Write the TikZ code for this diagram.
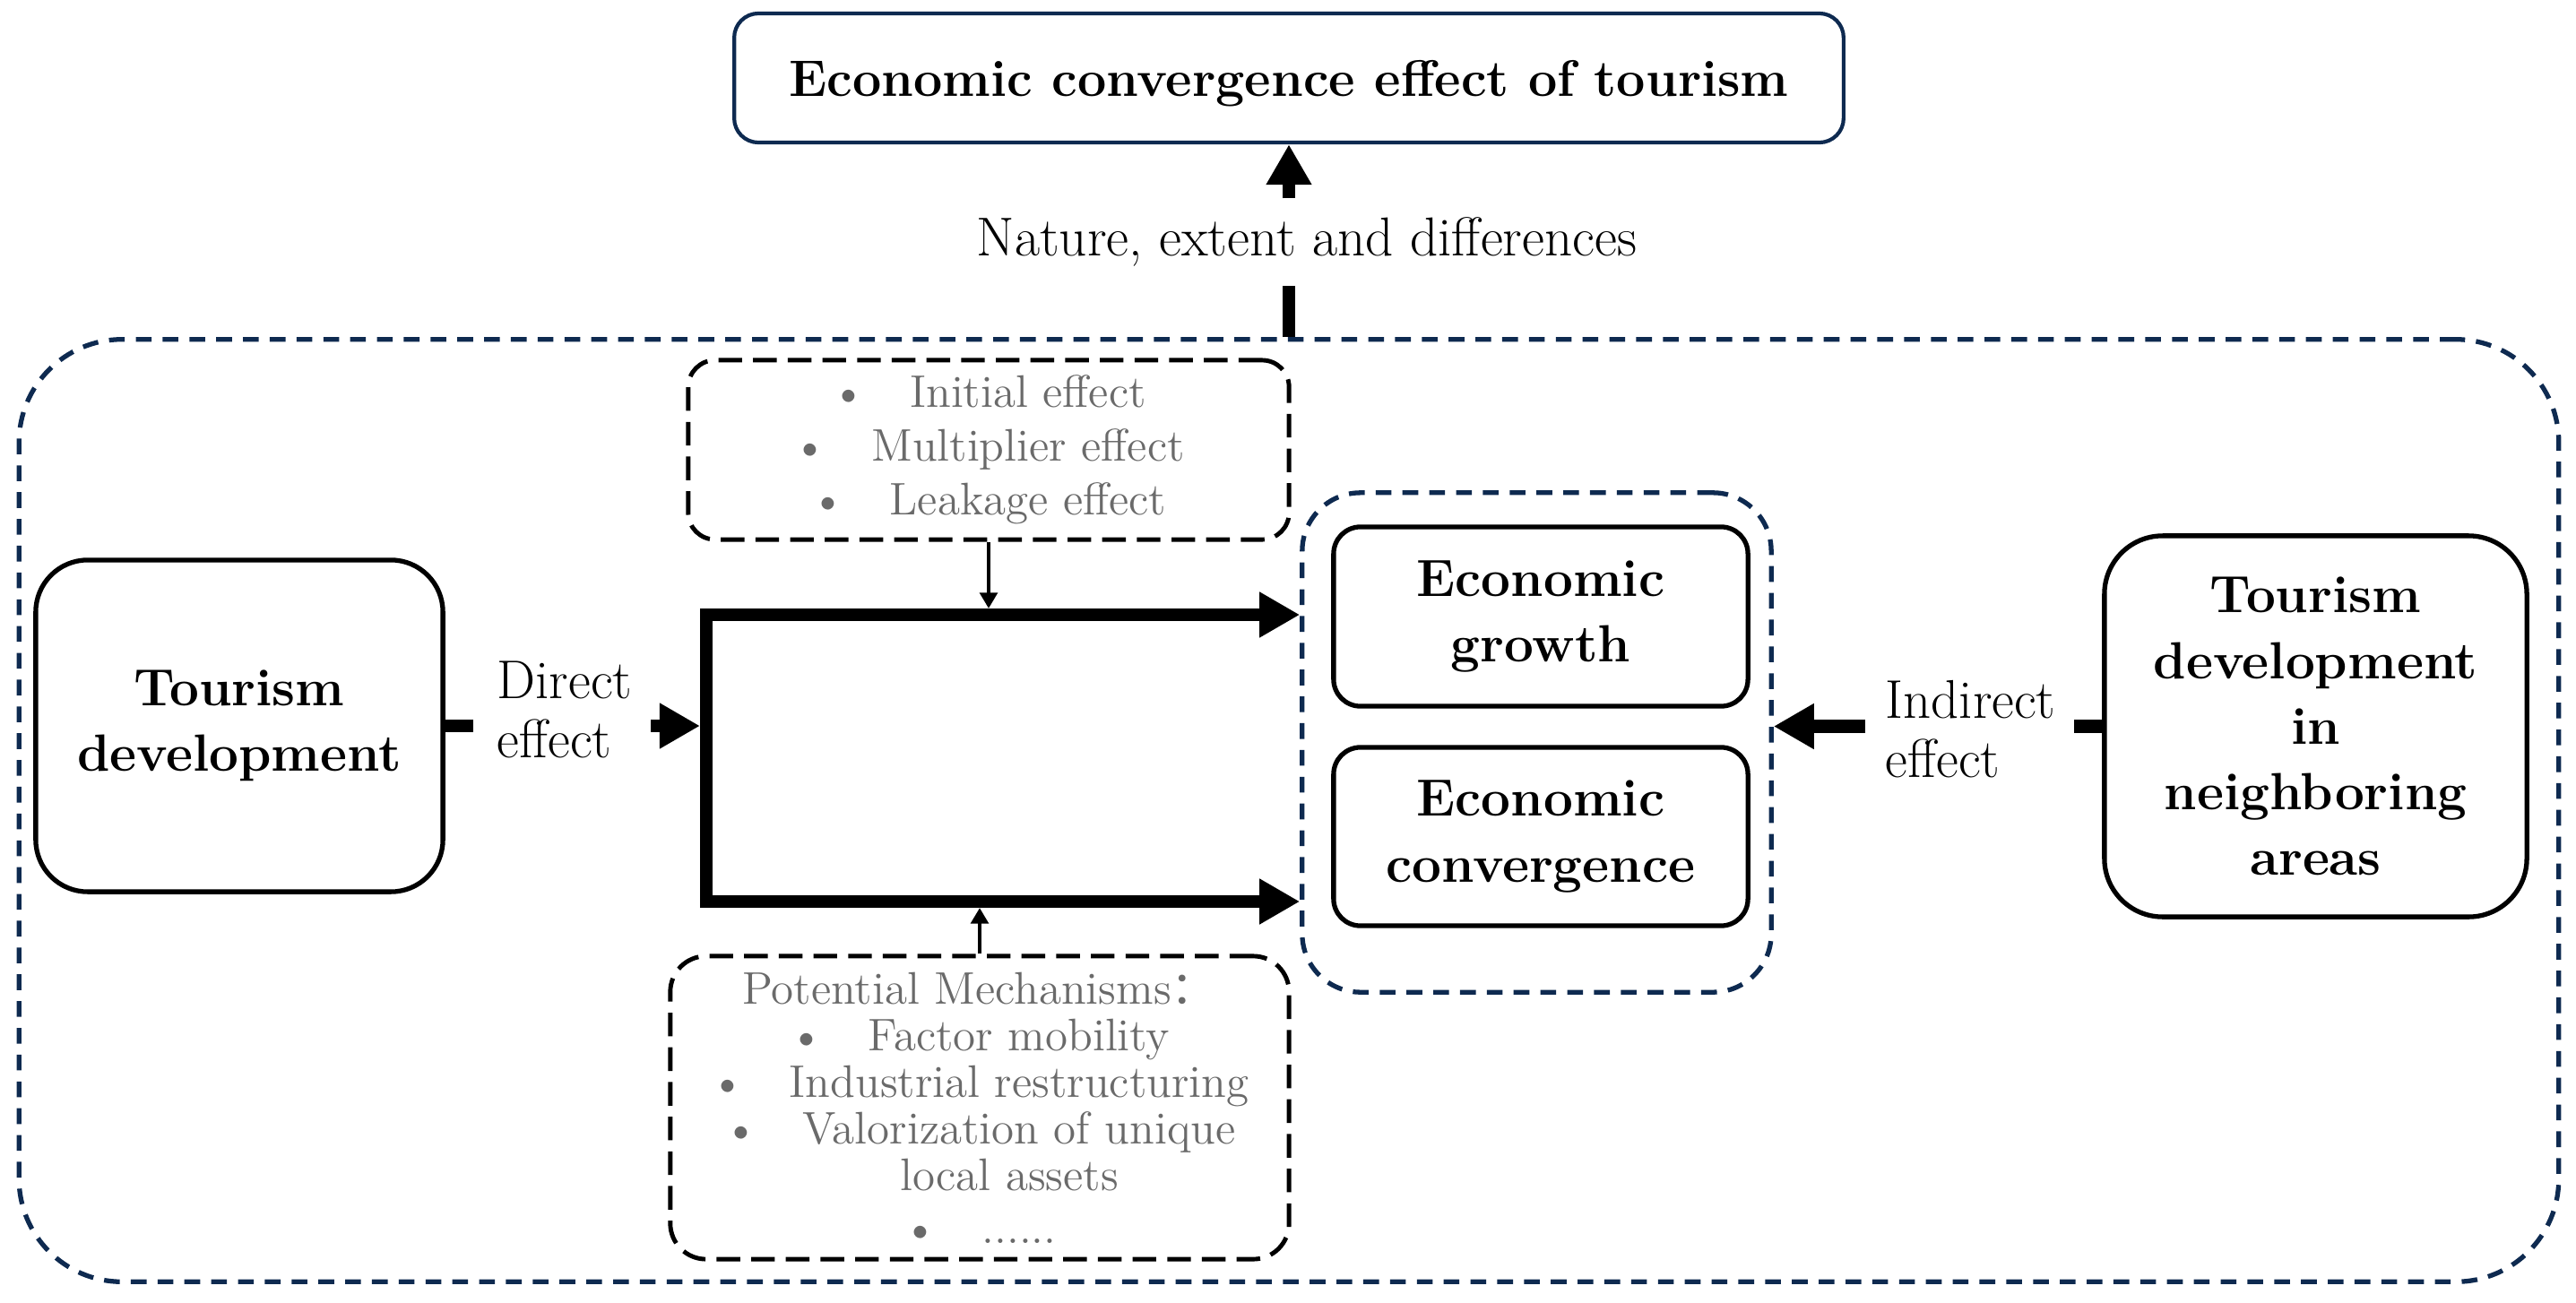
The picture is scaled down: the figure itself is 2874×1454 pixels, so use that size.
\documentclass[tikz,border=0pt]{standalone}
\usepackage{fontspec}
\newfontfamily\cjk{Noto Sans CJK SC}
\usetikzlibrary{arrows.meta}
\definecolor{navy}{HTML}{0E2A50}
\definecolor{txtgray}{HTML}{6A6A6A}
\newcommand{\myitem}{\textbullet\hspace{14pt}}
\begin{document}
\begin{tikzpicture}[x=0.01cm,y=-0.01cm,
  box/.style={draw=black, line width=1.5pt, align=center, inner sep=0pt,
    font=\fontsize{16.6}{20.8}\selectfont\bfseries},
  navydash/.style={draw=navy, line width=1.5pt, dash pattern=on 5pt off 3.5pt},
  blackdash/.style={draw=black, line width=1.4pt, dash pattern=on 7.5pt off 3.5pt,
    align=center, inner sep=0pt, text=txtgray},
  lbl/.style={align=left, inner sep=0pt, font=\fontsize{17.3}{18.8}\selectfont},
  thickln/.style={line width=4pt, draw=black},
  bigtip/.style={-{Triangle[length=12.8pt,width=13.6pt]}},
  thinarrow/.style={line width=1.3pt, -{Triangle[length=5pt,width=5.5pt]}, shorten >=2pt}
]
\useasboundingbox (0,0) rectangle (2874,1454);

% containers
\node[navydash, rounded corners=1.15cm, minimum width=28.32cm, minimum height=10.51cm] (outer) at (1438,904.5) {};
\node[navydash, rounded corners=0.65cm, minimum width=5.23cm, minimum height=5.57cm] (inner) at (1714.5,828.5) {};

% top box
\node[draw=navy, line width=1.2pt, rounded corners=0.27cm, minimum width=12.37cm, minimum height=1.44cm,
      inner sep=0pt, text depth=0pt, font=\fontsize{16.3}{20}\selectfont\bfseries] (top) at (1438,87)
      {Economic convergence effect of tourism};

\node[inner sep=0pt, minimum height=0.96cm, font=\fontsize{17.4}{18.8}\selectfont] (nat) at (1458,270)
      {Nature, extent and differences};

% main boxes
\node[box, rounded corners=0.58cm, minimum width=4.54cm, minimum height=3.70cm] (td) at (267,810)
      {Tourism\\development};
\node[box, rounded corners=0.65cm, minimum width=4.71cm, minimum height=4.25cm] (nb) at (2583.5,810.5)
      {Tourism\\development\\in\\neighboring\\areas};
\node[box, rounded corners=0.3cm, minimum width=4.62cm, minimum height=2.00cm] (eg) at (1719,688)
      {Economic\\growth};
\node[box, rounded corners=0.3cm, minimum width=4.62cm, minimum height=1.99cm] (ec) at (1719,933.5)
      {Economic\\convergence};

% dashed mechanism boxes
\node[blackdash, rounded corners=0.3cm, minimum width=6.70cm, minimum height=2.00cm,
      font=\fontsize{14.5}{17}\selectfont] (sm1) at (1103,502)
      {\myitem Initial effect\\ \myitem Multiplier effect\\ \myitem Leakage effect};
\node[blackdash, rounded corners=0.4cm, minimum width=6.90cm, minimum height=3.38cm,
      font=\fontsize{14.5}{14.8}\selectfont] (sm2) at (1093,1236)
      {Potential Mechanisms{\cjk ：}\\ \myitem Factor mobility\\ \myitem Industrial restructuring\\
       \myitem Valorization of unique\\ \hspace*{0.66cm}local assets\\[2pt] \myitem ......};

% labels
\node[lbl, anchor=west] (dl) at (554,792) {Direct\\effect};
\node[lbl, anchor=west] (dil) at (2103,814) {Indirect\\effect};

% bracket
\coordinate (bt) at (788,686);
\coordinate (bb) at (788,1006);
\draw[thickln, line join=miter, {Triangle[length=12.8pt,width=13.6pt]}-{Triangle[length=12.8pt,width=13.6pt]}]
  (bt -| inner.west) -- (bt) -- (bb) -- (bb -| inner.west);

% connectors
\draw[thickln] (outer.north) -- (outer.north |- nat.south);
\draw[thickln, bigtip] (outer.north |- nat.north) -- (top.south);

\draw[thickln, shorten >=0.26cm] (td.east) -- (dl.west |- td.east);
\draw[thickln, bigtip, shorten <=0.2cm, shorten >=2pt] (dl.east |- td.east) -- (bt |- td.east);

\draw[thickln, shorten >=0.2cm] (nb.west) -- (dil.east |- nb.west);
\draw[thickln, bigtip, shorten <=0.22cm] (dil.west |- nb.west) -- (inner.east |- nb.west);

\draw[thinarrow] (sm1.south) -- (sm1.south |- bt);
\draw[thinarrow] (sm2.north) -- (sm2.north |- bb);
\end{tikzpicture}
\end{document}
